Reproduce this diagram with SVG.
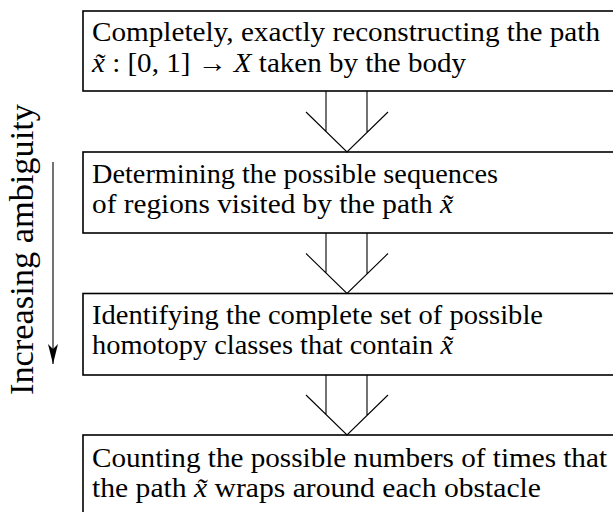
<svg xmlns="http://www.w3.org/2000/svg" width="613" height="512" viewBox="0 0 613 512">
  <defs>
    <style>
      .box { fill: #ffffff; stroke: #000000; stroke-width: 1.6; }
      .t { font-family: "Liberation Serif", "Times New Roman", serif; font-size: 27px; fill: #000000; }
      .side { font-family: "Liberation Serif", "Times New Roman", serif; font-size: 33px; fill: #000000; }
      .m { font-style: italic; }
      .conn { fill: none; stroke: #000000; stroke-width: 1.1; }
    </style>
    <marker id="ah" viewBox="0 0 20 10" refX="20" refY="5" markerWidth="20" markerHeight="10" markerUnits="userSpaceOnUse" orient="auto">
      <path d="M0,0 L20,5 L0,10 L5,5 Z" fill="#000000"/>
    </marker>
  </defs>
  <rect width="613" height="512" fill="#ffffff"/>

  <g id="node1">
    <rect class="box" x="83" y="11" width="540" height="80"/>
    <text class="t" x="92" y="41" textLength="508" lengthAdjust="spacingAndGlyphs">Completely, exactly reconstructing the path</text>
    <text class="t" x="92" y="72" textLength="374" lengthAdjust="spacingAndGlyphs"><tspan class="m">x̃</tspan> : [0, 1] → <tspan class="m">X</tspan> taken by the body</text>
  </g>

  <g id="node2">
    <rect class="box" x="83" y="152" width="540" height="81"/>
    <text class="t" x="92" y="183" textLength="406" lengthAdjust="spacingAndGlyphs">Determining the possible sequences</text>
    <text class="t" x="92" y="213" textLength="361" lengthAdjust="spacingAndGlyphs">of regions visited by the path <tspan class="m">x̃</tspan></text>
  </g>

  <g id="node3">
    <rect class="box" x="83" y="293.5" width="540" height="81.5"/>
    <text class="t" x="92" y="324" textLength="451" lengthAdjust="spacingAndGlyphs">Identifying the complete set of possible</text>
    <text class="t" x="92" y="354" textLength="361" lengthAdjust="spacingAndGlyphs">homotopy classes that contain <tspan class="m">x̃</tspan></text>
  </g>

  <g id="node4">
    <rect class="box" x="83" y="435" width="540" height="110"/>
    <text class="t" x="92" y="467" textLength="515" lengthAdjust="spacingAndGlyphs">Counting the possible numbers of times that</text>
    <text class="t" x="92" y="497" textLength="449" lengthAdjust="spacingAndGlyphs">the path <tspan class="m">x̃</tspan> wraps around each obstacle</text>
  </g>

  <g id="connectors">
    <path class="conn" d="M326,91 V131.5 M367,91 V132.5 M306,112 L347,152 L388,112"/>
    <path class="conn" d="M326,233 V273 M367,233 V274 M306,253.5 L347,293.5 L388,253.5"/>
    <path class="conn" d="M326,375 V414.5 M367,375 V415.5 M306,395 L347,435 L388,395"/>
  </g>

  <g id="ambiguity">
    <line x1="53" y1="162" x2="53" y2="364" stroke="#000000" stroke-width="1.1" marker-end="url(#ah)"/>
    <text class="side" transform="translate(33,249.5) rotate(-90)" x="0" y="0" text-anchor="middle" textLength="291" lengthAdjust="spacingAndGlyphs">Increasing ambiguity</text>
  </g>
</svg>
